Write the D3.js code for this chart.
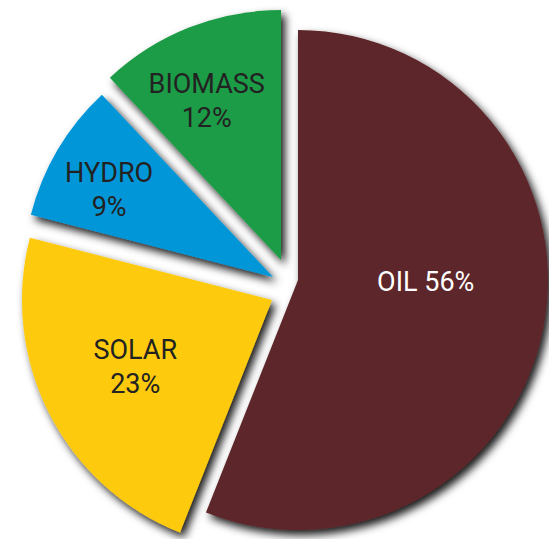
<!DOCTYPE html>
<html>
<head>
<meta charset="utf-8">
<script src="https://cdn.jsdelivr.net/npm/d3@7"></script>
<style>
  body { margin: 0; background: #fff; }
  svg { display: block; }
</style>
</head>
<body>
<div id="chart"></div>
<script>
// energy mix, percent
var sources = ["OIL", "SOLAR", "HYDRO", "BIOMASS"];
var shares = [56, 23, 9, 12];

// styles
var fills = ["#5d2629", "#fdca0b", "#0096d7", "#1f9c46"];
var textFills = ["#ffffff", "#222222", "#222222", "#222222"];

var svgWidth = 549;
var svgHeight = 539;
var center = { x: 290, y: 280 };
var radius = 250;

// how far each slice is pulled away from the middle (px)
var pull = [[8, 0], [-18, 20], [-17, -3], [-9, -20]];
// label radius and nudge for each slice
var labelR = [126, 158, 184, 176];
var labelNudge = [[4, -13], [4, 2], [-5.5, 13.5], [-9.5, 12]];

var data = sources.map(function(s, i) {
  return { name: s, share: shares[i], idx: i };
});

var svg = d3.select("#chart")
  .append("svg")
  .attr("width", svgWidth)
  .attr("height", svgHeight);

// drop shadow
var defs = svg.append("defs");
var filter = defs.append("filter")
  .attr("id", "shadow")
  .attr("x", "-20%").attr("y", "-20%")
  .attr("width", "140%").attr("height", "140%");
filter.append("feDropShadow")
  .attr("dx", 4)
  .attr("dy", 5)
  .attr("stdDeviation", 4.5)
  .attr("flood-color", "#000")
  .attr("flood-opacity", 0.9);

var pie = d3.pie()
  .sort(null)
  .value(function(d) { return d.share; });

var arc = d3.arc()
  .innerRadius(0)
  .outerRadius(radius);

var arcs = pie(data);

var chartGroup = svg.append("g")
  .attr("transform", "translate(" + center.x + "," + center.y + ")");

var slices = chartGroup.selectAll("g.slice")
  .data(arcs)
  .enter()
  .append("g")
  .attr("class", "slice")
  .attr("transform", function(d) {
    var p = pull[d.data.idx];
    return "translate(" + p[0] + "," + p[1] + ")";
  });

slices.append("path")
  .attr("d", arc)
  .attr("fill", function(d) { return fills[d.data.idx]; })
  .attr("filter", "url(#shadow)");

// labels
slices.each(function(d) {
  var i = d.data.idx;
  var mid = (d.startAngle + d.endAngle) / 2;
  var lx = Math.sin(mid) * labelR[i] + labelNudge[i][0];
  var ly = -Math.cos(mid) * labelR[i] + labelNudge[i][1];
  var t = d3.select(this).append("text")
    .attr("text-anchor", "middle")
    .attr("font-family", "Roboto, 'Liberation Sans', sans-serif")
    .attr("font-size", "27px")
    .attr("fill", textFills[i]);
  if (i === 0) {
    t.attr("x", lx).attr("y", ly)
      .text(d.data.name + " " + d.data.share + "%");
  } else {
    t.append("tspan").attr("x", lx).attr("y", ly - 15).text(d.data.name);
    t.append("tspan").attr("x", lx).attr("y", ly + 19).text(d.data.share + "%");
  }
});
</script>
</body>
</html>
